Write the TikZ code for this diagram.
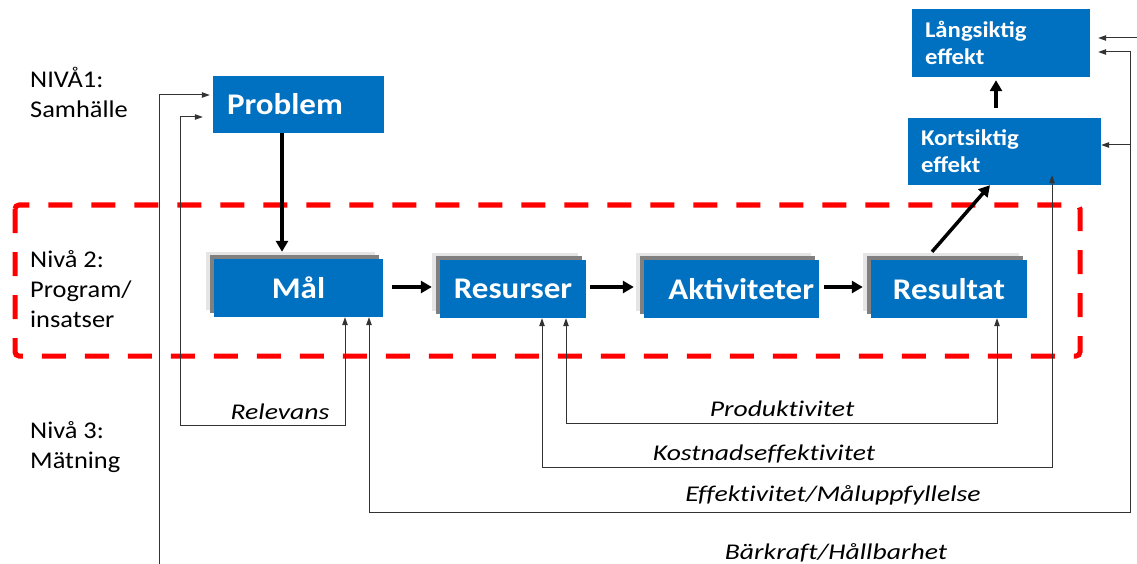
\documentclass[tikz,border=0pt]{standalone}
\usepackage{fontspec}
\setmainfont{Carlito}[FakeStretch=1.1]
\newfontfamily\lblfont{Carlito}[FakeStretch=1.23,Ligatures=NoCommon]
\usetikzlibrary{arrows.meta,shadows}
\definecolor{boxblue}{HTML}{0070C0}
\begin{document}
\begin{tikzpicture}[x=1pt,y=-1pt,
	box/.style={fill=boxblue,text=white,inner sep=0pt,font=\bfseries\fontsize{30}{32}\selectfont},
	stack/.style={box,minimum height=58pt,
		general shadow={shadow xshift=-8pt,shadow yshift=7pt,fill=black!10},
		general shadow={shadow xshift=-4pt,shadow yshift=4pt,fill=black!50}},
	effbox/.style={box,align=left,font=\bfseries\fontsize{22.5}{27}\selectfont},
	niva/.style={align=left,anchor=north west,inner sep=0pt,font=\fontsize{24}{30}\selectfont},
	lbl/.style={inner sep=0pt,anchor=base,font=\lblfont\itshape\fontsize{22.5}{24}\selectfont},
	fb/.style={line width=1pt,draw=black!80,>={Triangle[length=8pt,width=5.5pt]},<->},
	fbin/.style={fb,->},
	flow/.style={line width=3.5pt,>={Triangle[length=11pt,width=12pt]},->}]
	\useasboundingbox (0,0) rectangle (1137,564);
	% level 2 frame
	\draw[red,line width=5pt,dash pattern=on 24pt off 19pt,rounded corners=4pt] (15,205) rectangle (1080,356);
	% levels
	\node[niva] (niva1) at (30,67) {NIVÅ1:\\Samhälle};
	\node[niva] (niva2) at (30,250) {Nivå 2:\\Program/\\insatser};
	\node[niva] (niva3) at (30,421) {Nivå 3:\\Mätning};
	% boxes
	\node[box,minimum width=171pt,minimum height=57pt,text width=143pt,align=left] (prob) at (298.5,104.5) {Problem};
	\node[stack,minimum width=169pt] (mal) at (298.5,288) {Mål};
	\node[stack,minimum width=146pt] (res) at (513,289) {Resurser};
	\node[stack,minimum width=175pt,text width=165pt,align=right] (akt) at (731.5,289) {Aktiviteter};
	\node[stack,minimum width=156pt] (resu) at (949,289) {Resultat};
	\node[effbox,minimum width=193pt,minimum height=67pt,text width=167pt] (kort) at (1004.5,151.5) {Kortsiktig\\effekt};
	\node[effbox,minimum width=178pt,minimum height=68pt,text width=152pt] (lang) at (1001,43) {Långsiktig\\effekt};
	% free ends
	\path (159,564) coordinate (bkB) (1137,38) coordinate (bkR) (1130,512) coordinate (effR);
	% flow
	\draw[flow,shorten >=7pt] ([xshift=-16.5pt]prob.south) -- ([xshift=-16.5pt]mal.north);
	\draw[flow,shorten <=9pt,shorten >=8pt] (mal.east |- 0,287) -- (res.west |- 0,287);
	\draw[flow,shorten <=4pt,shorten >=10pt] (res.east |- 0,287) -- (akt.west |- 0,287);
	\draw[flow,shorten <=5pt,shorten >=8pt] (akt.east |- 0,287) -- (resu.west |- 0,287);
	\draw[flow] ([xshift=-17pt,yshift=8pt]resu.north) -- ([xshift=-14.5pt]kort.south);
	\draw[flow,shorten <=10pt,shorten >=3pt] ([xshift=-8.5pt]kort.north) -- ([xshift=-5pt]lang.south);
	% measurement loops
	\draw[fbin,shorten >=3pt] (bkB) |- (prob.west |- 0,95);
	\draw[fbin,shorten >=8pt] (bkR) -- (lang.east |- bkR);
	\draw[fb,shorten <=10pt] (prob.west |- 0,117) -| (180,425) -| ([xshift=46.5pt]mal.south);
	\draw[fb,shorten >=8pt] ([xshift=70.5pt]mal.south) |- (effR) |- ([yshift=-9pt]lang.east);
	\draw[fbin] (effR |- 0,145) -- (kort.east |- 0,145);
	\draw[fb,shorten >=-10pt] ([xshift=29pt]res.south) -- ++(0,149) -| ([xshift=47.5pt]kort.south);
	\draw[fb] ([xshift=53pt]res.south) -- ++(0,105) -| ([xshift=48pt]resu.south);
	% labels
	\node[lbl] (relevans) at (280,419) {Relevans};
	\node[lbl] (produkt) at (782,416) {Produktivitet};
	\node[lbl] (kostnad) at (764,460) {Kostnadseffektivitet};
	\node[lbl] (effektiv) at (833,501) {Effektivitet/Måluppfyllelse};
	\node[lbl] (barkraft) at (836,559) {Bärkraft/Hållbarhet};
\end{tikzpicture}
\end{document}
